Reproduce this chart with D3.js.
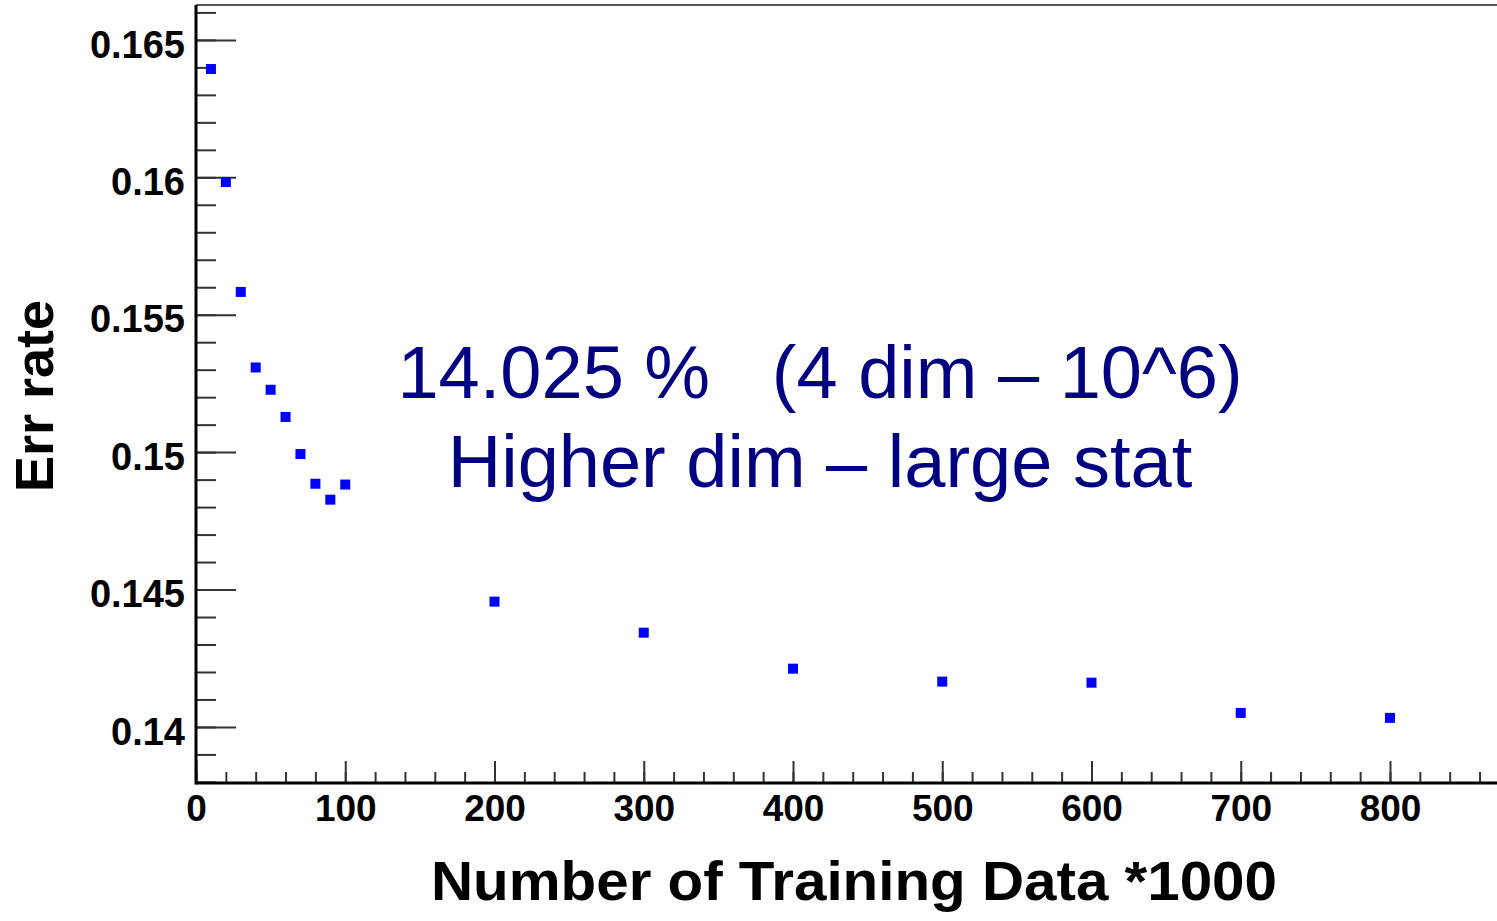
<!DOCTYPE html>
<html>
<head>
<meta charset="utf-8">
<script src="https://cdn.jsdelivr.net/npm/d3@7"></script>
<style>
  body { margin: 0; background: #fff; }
  svg { display: block; font-family: "Liberation Sans", Arial, sans-serif; }
</style>
</head>
<body>
<script>
const w = 1497;
const h = 921;

// data
const trainSize = [10, 20, 30, 40, 50, 60, 70, 80, 90, 100, 200, 300, 400, 500, 600, 700, 800];
const errRate = [0.16394, 0.15983, 0.15583, 0.15308, 0.15227, 0.15128, 0.14993, 0.14885, 0.14827,
                 0.14882, 0.14456, 0.14343, 0.14212, 0.14165, 0.14161, 0.14051, 0.14033];

const xMajor = [0, 100, 200, 300, 400, 500, 600, 700, 800];
const xMinor = d3.range(0, 861, 20);
const yMajor = [0.14, 0.145, 0.15, 0.155, 0.16, 0.165];
const yMinor = d3.range(138, 167).map(d => d / 1000);

const noteLines = ["14.025 %   (4 dim \u2013 10^6)", "Higher dim \u2013 large stat"];
const xTitle = "Number of Training Data *1000";
const yTitle = "Err rate";

const plotLeft = 196, plotTop = 5, plotRight = 1497, plotBottom = 783;

const svg = d3.select("body").append("svg").attr("width", w).attr("height", h);

const xScale = d3.scaleLinear().domain([0, 871.7]).range([plotLeft, plotRight]);
const yScale = d3.scaleLinear().domain([0.13796, 0.16627]).range([plotBottom, plotTop]);

// top frame line
svg.append("line")
    .attr("x1", plotLeft).attr("x2", plotRight)
    .attr("y1", plotTop).attr("y2", plotTop)
    .attr("stroke", "#555").attr("stroke-width", 2);

// minor ticks
svg.append("g")
    .attr("transform", "translate(0," + plotBottom + ")")
    .call(d3.axisBottom(xScale).tickValues(xMinor).tickSize(-11).tickFormat(""))
    .call(g => g.select(".domain").remove());

svg.append("g")
    .attr("transform", "translate(" + plotLeft + ",0)")
    .call(d3.axisLeft(yScale).tickValues(yMinor).tickSize(-20).tickFormat(""))
    .call(g => g.select(".domain").remove());

// major ticks with labels
const xAxisG = svg.append("g")
    .attr("transform", "translate(0," + plotBottom + ")")
    .call(d3.axisBottom(xScale).tickValues(xMajor).tickSize(-22).tickPadding(12).tickFormat(d3.format("d")));

const yAxisG = svg.append("g")
    .attr("transform", "translate(" + plotLeft + ",0)")
    .call(d3.axisLeft(yScale).tickValues(yMajor).tickSize(-40).tickPadding(11).tickFormat(d => String(+d.toFixed(3))));

svg.selectAll(".tick line").attr("stroke", "#333").attr("stroke-width", 2);
svg.selectAll(".domain").remove();

xAxisG.selectAll("text")
    .attr("font-size", 37).attr("font-weight", "bold").attr("fill", "#000")
    .attr("font-family", "Liberation Sans, Arial, sans-serif");
yAxisG.selectAll("text")
    .attr("font-size", 38).attr("font-weight", "bold").attr("fill", "#000")
    .attr("dy", "0.45em")
    .attr("font-family", "Liberation Sans, Arial, sans-serif");

// axis lines
svg.append("line")
    .attr("x1", plotLeft).attr("x2", plotRight)
    .attr("y1", plotBottom).attr("y2", plotBottom)
    .attr("stroke", "#000").attr("stroke-width", 3);
svg.append("line")
    .attr("x1", plotLeft).attr("x2", plotLeft)
    .attr("y1", plotTop).attr("y2", plotBottom + 1.5)
    .attr("stroke", "#000").attr("stroke-width", 3);

// markers
const size = 10;
svg.selectAll("rect.pt")
    .data(trainSize)
    .enter()
    .append("rect")
    .attr("class", "pt")
    .attr("x", d => xScale(d) - size / 2)
    .attr("y", (d, i) => yScale(errRate[i]) - size / 2)
    .attr("width", size)
    .attr("height", size)
    .attr("fill", "#0000ff");

// annotation
svg.selectAll("text.note")
    .data(noteLines)
    .enter()
    .append("text")
    .attr("class", "note")
    .attr("x", 820)
    .attr("y", (d, i) => 398 + i * 89)
    .attr("text-anchor", "middle")
    .attr("font-size", 74)
    .attr("fill", "#000080")
    .style("white-space", "pre")
    .text(d => d);

// axis titles
svg.append("text")
    .attr("x", 854)
    .attr("y", 900)
    .attr("text-anchor", "middle")
    .attr("font-size", 56)
    .attr("font-weight", "bold")
    .attr("textLength", 846)
    .attr("lengthAdjust", "spacingAndGlyphs")
    .text(xTitle);

svg.append("text")
    .attr("transform", "translate(53,396) rotate(-90)")
    .attr("text-anchor", "middle")
    .attr("font-size", 54)
    .attr("font-weight", "bold")
    .text(yTitle);
</script>
</body>
</html>
